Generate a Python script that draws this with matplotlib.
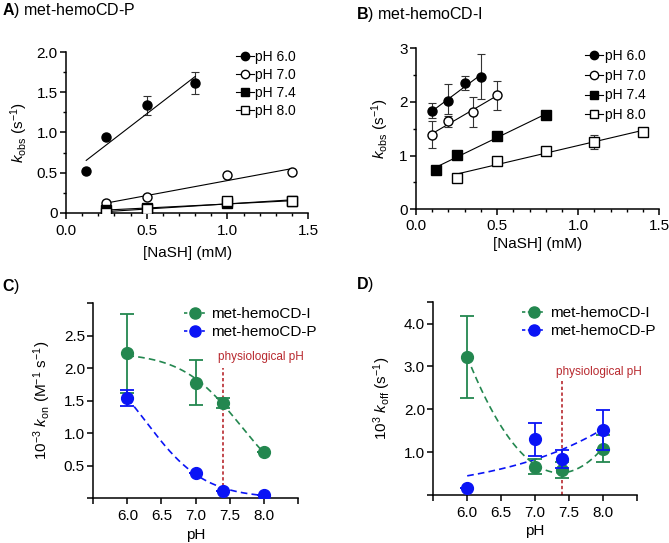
import matplotlib
matplotlib.use("Agg")
import matplotlib.pyplot as plt
from matplotlib.lines import Line2D
from matplotlib.ticker import MultipleLocator, FormatStrFormatter, FuncFormatter
import numpy as np

plt.rcParams['font.family'] = ['Liberation Sans', 'DejaVu Sans']
plt.rcParams['mathtext.fontset'] = 'custom'
plt.rcParams['mathtext.rm'] = 'Liberation Sans'
plt.rcParams['mathtext.it'] = 'Liberation Sans:italic'
plt.rcParams['mathtext.bf'] = 'Liberation Sans:bold'

# ---- panel A: met-hemoCD-P, kobs vs [NaSH]
a_ph = ['pH 6.0', 'pH 7.0', 'pH 7.4', 'pH 8.0']
a_x = [[0.125, 0.25, 0.5, 0.8],
       [0.25, 0.5, 1.0, 1.4],
       [0.25, 0.5, 1.0, 1.4],
       [0.25, 0.5, 1.0, 1.4]]
a_y = [[0.52, 0.95, 1.34, 1.62],
       [0.115, 0.19, 0.47, 0.51],
       [0.03, 0.06, 0.115, 0.145],
       [0.0, 0.05, 0.14, 0.14]]
a_err = [[0, 0, 0.12, 0.14],
         [0, 0, 0, 0],
         [0, 0, 0, 0],
         [0, 0, 0, 0]]

# ---- panel B: met-hemoCD-I
b_x = [[0.1, 0.2, 0.3, 0.4],
       [0.1, 0.2, 0.35, 0.5],
       [0.125, 0.25, 0.5, 0.8],
       [0.25, 0.5, 0.8, 1.1, 1.4]]
b_y = [[1.83, 2.02, 2.36, 2.47],
       [1.38, 1.65, 1.81, 2.13],
       [0.74, 1.01, 1.37, 1.75],
       [0.59, 0.90, 1.08, 1.25, 1.45]]
b_err_lo = [[0.13, 0.25, 0.14, 0.42],
            [0.24, 0.12, 0.27, 0.27],
            [0, 0, 0, 0.07],
            [0, 0, 0, 0.13, 0]]
b_err_hi = [[0.15, 0.31, 0.13, 0.42],
            [0.26, 0.09, 0.28, 0.26],
            [0, 0, 0, 0.07],
            [0, 0, 0, 0.13, 0]]

# ---- panels C / D: vs pH
ph = [6.0, 7.0, 7.4, 8.0]
kon_I = [2.23, 1.78, 1.47, 0.72]
kon_I_err = [0.61, 0.35, 0.08, 0]
kon_P = [1.54, 0.39, 0.12, 0.05]
kon_P_err = [0.12, 0, 0, 0]
koff_I = [3.23, 0.66, 0.58, 1.08]
koff_I_err = [0.96, 0.18, 0.18, 0.31]
koff_P = [0.17, 1.30, 0.84, 1.52]
koff_P_err = [0, 0.39, 0.22, 0.46]

green = '#23874F'
blue = '#0A14F5'
red = '#B8292F'

styles = [dict(marker='o', mfc='black'), dict(marker='o', mfc='white'),
          dict(marker='s', mfc='black'), dict(marker='s', mfc='white')]

fig = plt.figure(figsize=(6.69, 5.43), dpi=100)


def style_axes(ax):
    for s in ['top', 'right']:
        ax.spines[s].set_visible(False)
    for s in ['left', 'bottom']:
        ax.spines[s].set_linewidth(1.1)
    ax.tick_params(which='major', length=4, width=1.1, labelsize=11, pad=2)
    ax.tick_params(which='minor', length=2.5, width=1.0)


def kinetics_panel(ax, xs, ys, lo, hi, ms):
    for i in range(len(xs)):
        x = np.array(xs[i])
        y = np.array(ys[i])
        m, c = np.polyfit(x, y, 1)
        xx = np.array([x.min(), x.max()])
        ax.plot(xx, m * xx + c, color='black', lw=0.8, zorder=2)
        ax.errorbar(x, y, yerr=[lo[i], hi[i]], fmt='none', ecolor='#333333',
                    elinewidth=0.8, capsize=3, capthick=0.8, zorder=1)
        ax.plot(x, y, ls='none', mec='black', mew=1.0, ms=ms, zorder=3, **styles[i])
    handles = [Line2D([], [], color='black', lw=0.8, mec='black', mew=1.0,
                      ms=ms - 0.5, **st) for st in styles]
    return handles


# A
axA = fig.add_axes([0.0987, 0.6083, 0.362, 0.2954])
style_axes(axA)
hA = kinetics_panel(axA, a_x, a_y, a_err, a_err, 6.5)
axA.set_xlim(0, 1.5)
axA.set_ylim(0, 2.0)
axA.xaxis.set_major_locator(MultipleLocator(0.5))
axA.xaxis.set_minor_locator(MultipleLocator(0.1))
axA.yaxis.set_major_locator(MultipleLocator(0.5))
axA.yaxis.set_minor_locator(MultipleLocator(0.25))
axA.yaxis.set_major_formatter(FuncFormatter(lambda v, p: '0' if v == 0 else '%.1f' % v))
axA.xaxis.set_major_formatter(FormatStrFormatter('%.1f'))
axA.tick_params(axis='x', which='major', pad=4)
axA.set_xlabel('[NaSH] (mM)', fontsize=11, labelpad=6)
axA.set_ylabel(r'$k_{\rm obs}$ (s$^{-1}$)', fontsize=11, labelpad=5)
axA.legend(hA, a_ph, loc='upper right', bbox_to_anchor=(1.0, 1.09), frameon=False,
           fontsize=10, handlelength=1.3, handletextpad=0.1, labelspacing=0.27)

# B
axB = fig.add_axes([0.6218, 0.6145, 0.3637, 0.2965])
style_axes(axB)
hB = kinetics_panel(axB, b_x, b_y, b_err_lo, b_err_hi, 6.5)
axB.set_xlim(0, 1.5)
axB.set_ylim(0, 3)
axB.xaxis.set_major_locator(MultipleLocator(0.5))
axB.xaxis.set_minor_locator(MultipleLocator(0.1))
axB.yaxis.set_major_locator(MultipleLocator(1))
axB.yaxis.set_minor_locator(MultipleLocator(0.5))
axB.xaxis.set_major_formatter(FormatStrFormatter('%.1f'))
axB.tick_params(axis='x', which='major', pad=3)
axB.set_xlabel('[NaSH] (mM)', fontsize=11, labelpad=3)
axB.set_ylabel(r'$k_{\rm obs}$ (s$^{-1}$)', fontsize=11, labelpad=6)
axB.legend(hB, a_ph, loc='upper right', bbox_to_anchor=(0.995, 1.075), frameon=False,
           fontsize=10, handlelength=1.3, handletextpad=0.1, labelspacing=0.42)


def sigmoid_fit(x, y):
    x = np.asarray(x)
    y = np.asarray(y)
    best = None
    for pka in np.arange(5.0, 9.5, 0.002):
        f = 1.0 / (1.0 + 10 ** (x - pka))
        kmax = (f * y).sum() / (f * f).sum()
        r = ((kmax * f - y) ** 2).sum()
        if best is None or r < best[0]:
            best = (r, pka, kmax)
    return lambda t: best[2] / (1.0 + 10 ** (t - best[1]))


def exp_fit(x, y):
    x = np.asarray(x)
    y = np.asarray(y)
    best = None
    for k in np.arange(0.0, 3.0, 0.001):
        f = np.exp(k * (x - 6.0))
        amp = (f * y).sum() / (f * f).sum()
        r = ((amp * f - y) ** 2).sum()
        if best is None or r < best[0]:
            best = (r, k, amp)
    return lambda t: best[2] * np.exp(best[1] * (t - 6.0))


def ph_panel(ax, yI, eI, yP, eP, fitI, fitP, ymax, yticks):
    style_axes(ax)
    ax.tick_params(which='major', labelsize=11)
    ax.tick_params(axis='x', which='major', pad=4)
    t = np.linspace(6.0, 8.0, 200)
    ax.plot(t, fitI(t), color=green, ls=(0, (4, 2.5)), lw=1.2, zorder=2)
    ax.plot(t, fitP(t), color=blue, ls=(0, (4, 2.5)), lw=1.2, zorder=2)
    ax.errorbar(ph, yI, yerr=eI, fmt='o', color=green, ms=8.5, elinewidth=1.3,
                capsize=5, capthick=1.3, zorder=3)
    ax.errorbar(ph, yP, yerr=eP, fmt='o', color=blue, ms=8.5, elinewidth=1.3,
                capsize=5, capthick=1.3, zorder=4)
    ax.set_xlim(5.5, 8.5)
    ax.set_ylim(0, ymax)
    ax.set_xticks(np.arange(5.5, 8.51, 0.5))
    ax.set_xticklabels(['', '6.0', '6.5', '7.0', '7.5', '8.0', ''])
    ax.set_yticks(yticks)
    ax.set_yticklabels(['%.1f' % v if 0 < v < ymax else '' for v in yticks])
    ax.set_xlabel('pH', fontsize=11, labelpad=3)
    h = [Line2D([], [], color=green, ls=(0, (2, 1.5)), lw=1.2, marker='o', ms=8),
         Line2D([], [], color=blue, ls=(0, (2, 1.5)), lw=1.2, marker='o', ms=8)]
    ax.legend(h, ['met-hemoCD-I', 'met-hemoCD-P'], loc='upper right',
              bbox_to_anchor=(1.16, 1.05), frameon=False, fontsize=11,
              handlelength=1.5, handletextpad=0.3, labelspacing=0.25)


# C
axC = fig.add_axes([0.1395, 0.0823, 0.3055, 0.359])
ph_panel(axC, kon_I, kon_I_err, kon_P, kon_P_err,
         sigmoid_fit(ph, kon_I), sigmoid_fit(ph, kon_P), 3.0,
         np.arange(0, 3.01, 0.5))
axC.set_ylabel(r'10$^{-3}$ $k_{\rm on}$ (M$^{-1}$ s$^{-1}$)', fontsize=11, labelpad=8)
axC.plot([7.4, 7.4], [0, 2.0], color=red, ls=(0, (2, 1.5)), lw=1.2, zorder=1)
axC.text(7.33, 2.18, 'physiological pH', color=red, fontsize=8.5, va='center')

# D
axD = fig.add_axes([0.6477, 0.0884, 0.304, 0.355])
quad = np.polyfit(ph, koff_I, 2)
ph_panel(axD, koff_I, koff_I_err, koff_P, koff_P_err,
         lambda t: np.polyval(quad, t), exp_fit(ph, koff_P), 4.5,
         np.arange(0, 4.51, 1.0).tolist() + [4.5])
axD.set_ylabel(r'10$^{3}$ $k_{\rm off}$ (s$^{-1}$)', fontsize=11, labelpad=8)
axD.plot([7.4, 7.4], [0, 2.65], color=red, ls=(0, (2, 1.5)), lw=1.2, zorder=1)
axD.text(7.31, 2.88, 'physiological pH', color=red, fontsize=8.5, va='center')

# panel letters
fig.text(0.003, 1 - 10 / 543, r'$\bf{A}$) met-hemoCD-P', fontsize=11.5, va='center')
fig.text(356 / 669, 1 - 14 / 543, r'$\bf{B}$) met-hemoCD-I', fontsize=11.5, va='center')
fig.text(0.003, 1 - 287 / 543, r'$\bf{C}$)', fontsize=11.5, va='center')
fig.text(356 / 669, 1 - 285 / 543, r'$\bf{D}$)', fontsize=11.5, va='center')

fig.savefig('out.png', dpi=100)
